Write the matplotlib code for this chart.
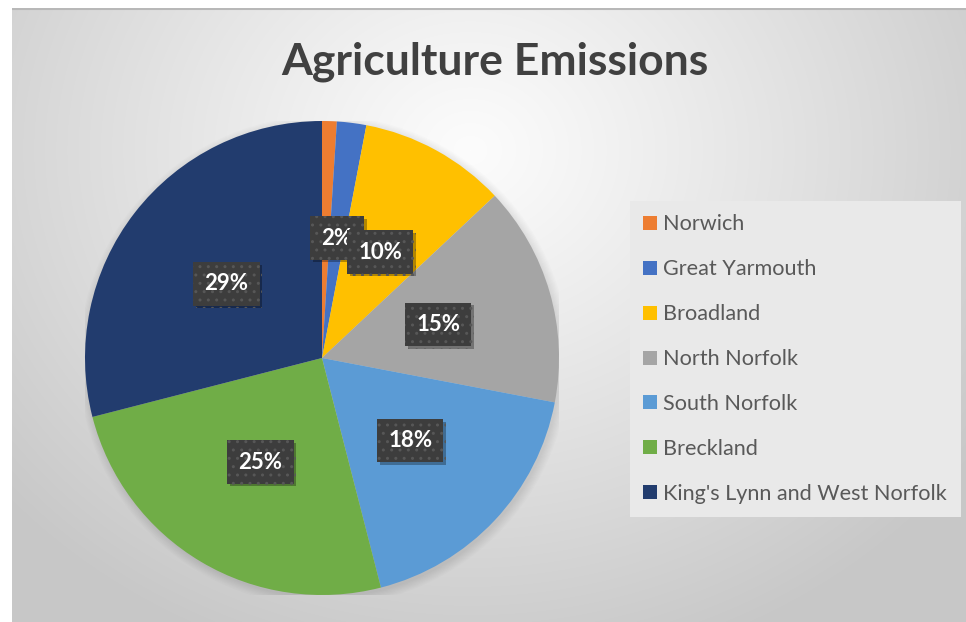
import numpy as np
import matplotlib
matplotlib.use("Agg")
import matplotlib.pyplot as plt
from matplotlib.patches import Circle
import matplotlib.patheffects as pe

title = "Agriculture Emissions"
categories = ["Norwich", "Great Yarmouth", "Broadland", "North Norfolk",
              "South Norfolk", "Breckland", "King's Lynn and West Norfolk"]
values = [1, 2, 10, 15, 18, 25, 29]
colors = ["#ED7D31", "#4472C4", "#FFC000", "#A5A5A5", "#5B9BD5", "#70AD47", "#223C6E"]

W, H = 966, 622
fig = plt.figure(figsize=(W / 100, H / 100), dpi=100)
fig.patch.set_facecolor("white")

# background chart area with radial gradient
bx0, by_top = 12, 8
bg = fig.add_axes([bx0 / W, 0, 1 - bx0 / W, 1 - by_top / H])
bg.set_axis_off()
yy, xx = np.mgrid[0:H - by_top, 0:W - bx0]
cx, cy = 470 - bx0, 150 - by_top
d = np.sqrt((xx - cx) ** 2 + ((yy - cy) * 1.15) ** 2)
t = np.clip(d / 620, 0, 1) ** 1.1
v = (252 - (252 - 199) * t) / 255
bg.imshow(np.dstack([v, v, v]), aspect="auto", extent=[0, 1, 0, 1], origin="upper")
bg.set_xlim(0, 1); bg.set_ylim(0, 1)
bg.plot([0, 1], [0.999, 0.999], color="#b8b8b8", lw=1.5)

# pie axes
pcx, pcy, r = 322, 358, 237
ax = fig.add_axes([(pcx - r) / W, (H - pcy - r) / H, 2 * r / W, 2 * r / H])
ax.set_axis_off()
# soft shadow
for k in range(8):
    ax.add_patch(Circle((0.008, -0.012), 1.0 + 0.005 * k, color="black",
                        alpha=0.012, lw=0, zorder=0))
wedges, texts, autotexts = ax.pie(
    values, colors=colors, startangle=90, counterclock=False,
    autopct="%1.0f%%", pctdistance=0.51, radius=1.0,
    wedgeprops=dict(linewidth=0), textprops=dict(color="white"))
for w in wedges:
    w.set_zorder(2)
for i, at in enumerate(autotexts):
    at.set_fontsize(16)
    at.set_fontweight("bold")
    at.set_family("Lato")
    at.set_zorder(5)
    at.set_bbox(dict(boxstyle="square,pad=0.5", facecolor="#3d3d3d",
                     edgecolor="#575757", linewidth=0, hatch=".."))
    at.get_bbox_patch().set_path_effects(
        [pe.SimplePatchShadow(offset=(2, -2), shadow_rgbFace="black", alpha=0.3),
         pe.Normal()])
# the smallest slice's label is hidden behind its neighbour in the reference
autotexts[0].set_visible(False)
ax.set_xlim(-1, 1); ax.set_ylim(-1, 1)
ax.set_aspect("equal")

# title
fig.text(495 / W, 1 - 75 / H, title, ha="center", va="baseline",
         fontsize=32, fontweight="bold", color="#404040", family="Lato")

# legend
leg = fig.legend(wedges, categories, loc="upper left",
                 bbox_to_anchor=(630 / W, 1 - 201 / H),
                 frameon=True, fancybox=False, framealpha=1,
                 facecolor="#e9e9e9", edgecolor="none",
                 prop=dict(family="Lato", size=15.6),
                 labelspacing=1.15, handlelength=0.62, handleheight=0.62,
                 handletextpad=0.3, borderpad=0.62, borderaxespad=0)
for txt in leg.get_texts():
    txt.set_color("#595959")

fig.savefig("out.png", dpi=100)
